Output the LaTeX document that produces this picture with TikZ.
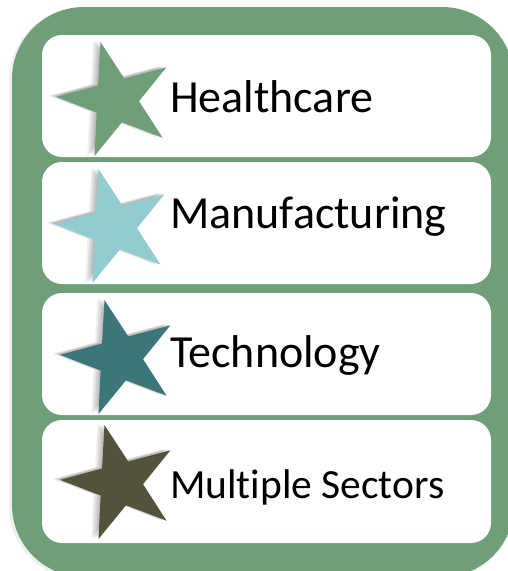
\documentclass[tikz,border=0pt]{standalone}
\usepackage{fontspec}
\setmainfont[RawFeature={-liga;-clig}]{Carlito}
\usetikzlibrary{shapes.geometric,calc}
\definecolor{framegreen}{HTML}{6E9F78}
\definecolor{starA}{HTML}{6E9F78}
\definecolor{starB}{HTML}{92CBD0}
\definecolor{starC}{HTML}{3B767B}
\definecolor{starD}{HTML}{52533A}
\tikzset{
  rowbox/.style={fill=white, rounded corners=20pt},
  starshape/.style={star, star points=5, star point ratio=2.6, inner sep=0pt, rotate=15, draw=none},
  starmark/.style={starshape, minimum size=120pt},
  starshadow/.style={starshape, fill=black, fill opacity=0.06, minimum size=#1},
  label/.style={anchor=base west, inner sep=0pt, text=black, font=\fontsize{46}{50}\selectfont},
}
\newcommand{\shadowedstar}[3]{%
  \foreach \dx/\sz in {-7/121,-5.5/120.5,-4/120,-2.5/120,-1/120}{\node[starshadow=\sz pt] at ($#2+(\dx,-1)$) {};}%
  \node[starmark, fill=#3] (#1) at #2 {};}
\begin{document}
\begin{tikzpicture}[x=1pt,y=-1pt]
\useasboundingbox (0,0) rectangle (508,571);
\clip (0,0) rectangle (508,571);
% outer frame
\fill[black, opacity=0.06, rounded corners=72pt] (9,8) rectangle (514,579);
\fill[framegreen, rounded corners=72pt] (12,7) rectangle (514,577);
% row boxes
\fill[rowbox] (42,35) rectangle (491,157);
\fill[rowbox] (42,162) rectangle (491,284);
\fill[rowbox] (42,293) rectangle (491,415);
\fill[rowbox] (42,420) rectangle (491,543);
% stars
\shadowedstar{s1}{(116,100)}{starA}
\shadowedstar{s2}{(114,227)}{starB}
\shadowedstar{s3}{(120,358)}{starC}
\shadowedstar{s4}{(120,483)}{starD}
% labels
\node[label] (t1) at (170,112) {Healthcare};
\node[label] (t2) at (170,228) {Manufacturing};
\node[label] (t3) at (170,367) {Technology};
\node[label, font=\fontsize{41.5}{45}\selectfont] (t4) at (170,498) {Multiple Sectors};
\end{tikzpicture}
\end{document}
